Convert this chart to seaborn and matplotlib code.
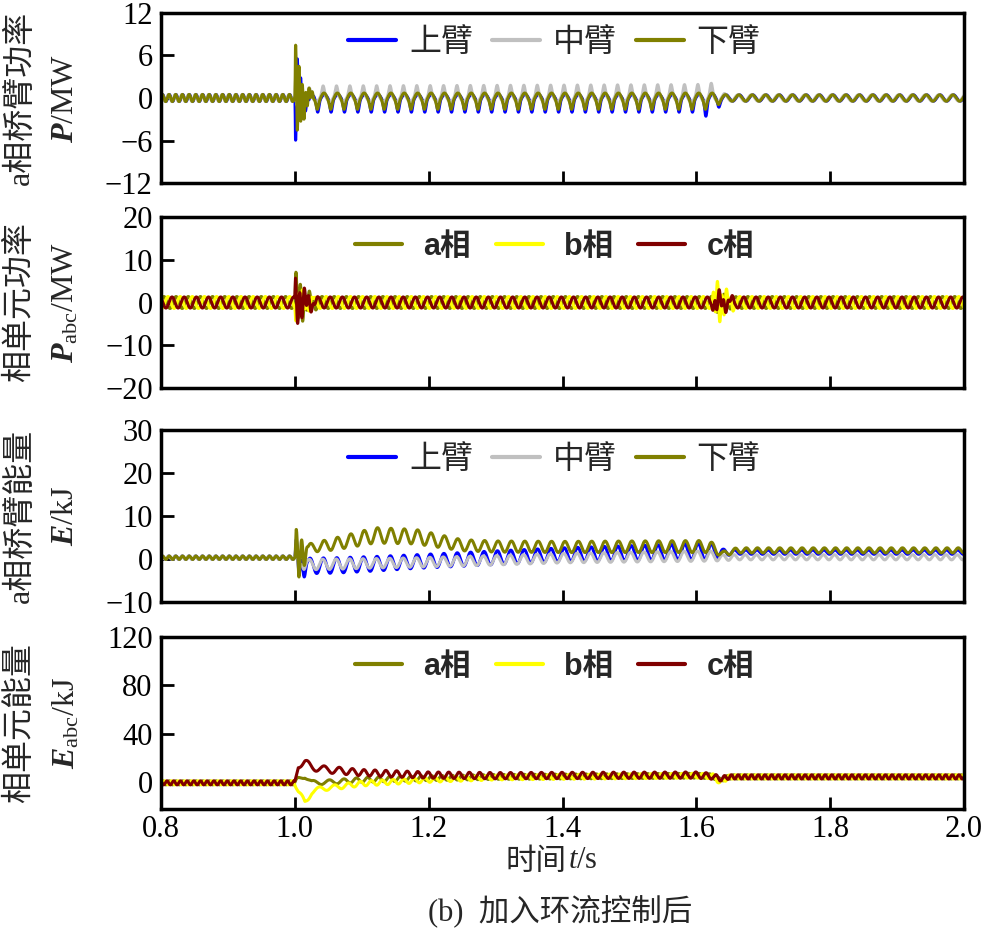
import numpy as np
import pandas as pd
import matplotlib.pyplot as plt
import matplotlib.transforms as mtrans
import seaborn as sns

# --- 时间轴 ---
dt = 0.0002
t = np.round(np.arange(0.8, 2.0 + dt / 2, dt), 6)

# --- 1. a相桥臂功率 P/MW ---
p1_knots = [0.80, 1.000, 1.001, 1.006, 1.015, 1.03, 1.60, 1.625, 1.635, 1.65, 2.00]
p1_freq = [100, 100, 50, 50, 50, 50, 50, 50, 50, 50, 50]
p1_zero = [0, 0, 0, 0, 0, 0, 0, 0, 0, 0, 0]
p1_up_amp = [0.5, 0.5, 0.7, 0.7, 0.6, 0.5, 0.5, 0.6, 0.5, 0.45, 0.45]
p1_up_pulse = [0, 0, 0, 0, -0.8, -1.5, -1.5, -2.4, -0.6, 0, 0]
p1_up_burst = [0, 0, 6.5, 3.5, 1.0, 0, 0, 0, 0, 0, 0]
p1_mid_amp = [0.5, 0.5, 0.5, 0.5, 0.5, 0.5, 0.6, 0.6, 0.5, 0.45, 0.45]
p1_mid_pulse = [0, 0, 0, 0, 0.6, 1.2, 1.3, 1.5, 0.3, 0, 0]
p1_mid_burst = [0, 0, 2.0, 1.0, 0.5, 0, 0, 0, 0, 0, 0]
p1_low_amp = [0.5, 0.5, 0.8, 0.8, 0.7, 0.7, 0.7, 0.7, 0.5, 0.45, 0.45]
p1_low_pulse = [0, 0, 0, 0, -0.5, -0.9, -0.9, -0.9, -0.3, 0, 0]
p1_low_burst = [0, 0, 7.0, 4.0, 1.5, 0, 0, 0, 0, 0, 0]

# --- 2. 相单元功率 Pabc/MW ---
p2_knots = [0.80, 1.000, 1.001, 1.008, 1.02, 1.035, 1.60, 1.622, 1.630, 1.645, 1.66, 2.00]
p2_freq = [55, 55, 55, 55, 55, 55, 55, 55, 55, 55, 55, 55]
p2_zero = [0, 0, 0, 0, 0, 0, 0, 0, 0, 0, 0, 0]
p2_a_amp = [1.4, 1.4, 1.4, 1.4, 1.4, 1.4, 1.4, 1.4, 1.4, 1.4, 1.4, 1.4]
p2_a_burst = [0, 0, 6.5, 4.0, 1.5, 0, 0, 0, 1.0, 0.5, 0, 0]
p2_b_amp = [1.4, 1.4, 1.4, 1.4, 1.4, 1.4, 1.4, 1.4, 1.4, 1.4, 1.4, 1.4]
p2_b_burst = [0, 0, 3.0, 2.0, 1.0, 0, 0, 0, 4.5, 2.0, 0, 0]
p2_c_amp = [1.3, 1.3, 1.3, 1.3, 1.3, 1.3, 1.3, 1.3, 1.3, 1.3, 1.3, 1.3]
p2_c_burst = [0, 0, 5.0, 3.5, 1.5, 0, 0, 0, 2.0, 1.0, 0, 0]

# --- 3. a相桥臂能量 E/kJ ---
p3_knots = [0.80, 1.000, 1.002, 1.006, 1.02, 1.06, 1.12, 1.18, 1.25, 1.30, 1.40, 1.62, 1.64, 1.66, 2.00]
p3_freq = [100, 100, 50, 50, 50, 50, 50, 50, 50, 50, 50, 50, 60, 60, 60]
p3_up_mean = [0.3, 0.3, 0.0, -1.0, -1.6, -1.5, -1.1, -0.6, -0.1, 0.3, 1.0, 1.8, 1.5, 1.6, 1.6]
p3_up_amp = [0.4, 0.4, 1.5, 1.8, 1.8, 1.8, 1.7, 1.6, 1.6, 1.6, 1.6, 1.9, 0.8, 0.5, 0.5]
p3_up_burst = [0, 0, 3.0, 3.0, 0, 0, 0, 0, 0, 0, 0, 0, 0, 0, 0]
p3_mid_mean = [0.3, 0.3, 0.0, -0.8, -1.3, -1.2, -1.0, -0.8, -0.5, -0.3, 0.2, 0.7, 0.3, 0.4, 0.4]
p3_mid_amp = [0.4, 0.4, 1.0, 1.2, 1.2, 1.2, 1.1, 1.1, 1.1, 1.1, 1.1, 1.2, 0.7, 0.6, 0.6]
p3_mid_burst = [0, 0, 1.0, 1.0, 0, 0, 0, 0, 0, 0, 0, 0, 0, 0, 0]
p3_low_mean = [0.3, 0.3, 0.5, 0.5, 2.5, 3.5, 5.5, 5.2, 3.2, 2.9, 2.8, 2.9, 1.2, 2.0, 2.0]
p3_low_amp = [0.4, 0.4, 1.0, 1.0, 1.0, 1.4, 1.8, 1.7, 1.3, 1.3, 1.3, 1.4, 0.6, 0.6, 0.6]
p3_low_burst = [0, 0, 5.5, 5.5, 0, 0, 0, 0, 0, 0, 0, 0, 0, 0, 0]

# --- 4. 相单元能量 Eabc/kJ ---
p4_knots = [0.80, 1.000, 1.005, 1.015, 1.025, 1.04, 1.06, 1.10, 1.20, 1.30, 1.60, 1.625, 1.635, 1.65, 2.00]
p4_freq = [100, 100, 40, 40, 40, 40, 45, 60, 65, 65, 65, 65, 80, 100, 100]
p4_zero = [0, 0, 0, 0, 0, 0, 0, 0, 0, 0, 0, 0, 0, 0, 0]
p4_a_mean = [-0.4, -0.4, 3.0, 5.0, 0.0, 0.0, 0.5, 2.0, 3.5, 4.5, 5.5, 5.0, 2.0, 4.5, 4.5]
p4_a_amp = [1.7, 1.7, 1.5, 1.5, 1.5, 1.8, 1.8, 2.0, 2.0, 2.0, 2.0, 2.0, 1.5, 1.8, 1.8]
p4_b_mean = [-0.4, -0.4, -8.0, -17.0, -8.0, -5.0, -4.0, -1.0, 2.0, 4.0, 5.5, 5.0, 0.0, 4.5, 4.5]
p4_b_amp = [1.7, 1.7, 2.0, 3.0, 2.0, 2.0, 2.0, 2.0, 2.0, 2.0, 2.0, 2.0, 1.5, 1.8, 1.8]
p4_c_mean = [-0.4, -0.4, 14.0, 16.0, 13.0, 11.0, 10.0, 8.0, 6.0, 5.5, 6.0, 5.0, 3.0, 4.5, 4.5]
p4_c_amp = [1.7, 1.7, 2.0, 3.0, 3.0, 2.8, 2.8, 2.6, 2.6, 2.6, 2.6, 2.5, 2.0, 1.8, 1.8]

arm_names = ['上臂', '中臂', '下臂']
phase_names = ['a相', 'b相', 'c相']
arm_colors = ['#0000FF', '#C0C0C0', '#808000']
phase_colors = ['#808000', '#FFFF00', '#800000']

ylabel_cn = ['a相桥臂功率', '相单元功率', 'a相桥臂能量', '相单元能量']
ylabel_math = [r'$P$/MW', r'$P_{\mathrm{abc}}$/MW', r'$E$/kJ', r'$E_{\mathrm{abc}}$/kJ']
ylims = [(-12, 12), (-20, 20), (-10, 30), (-22, 120)]
yticks = [[-12, -6, 0, 6, 12], [-20, -10, 0, 10, 20], [-10, 0, 10, 20, 30], [0, 40, 80, 120]]
xticks = [0.8, 1.0, 1.2, 1.4, 1.6, 1.8, 2.0]


def wave(knots, freq, mean, amp, burst, phase=0.0, pulse=None, burst_f=150.0, burst_phase=0.0):
    ph = 2 * np.pi * np.cumsum(np.interp(t, knots, freq)) * dt + phase
    y = np.interp(t, knots, mean) + np.interp(t, knots, amp) * np.sin(ph)
    if pulse is not None:
        p = np.interp(t, knots, pulse)
        y += p * ((1 + np.sign(p) * np.sin(ph)) / 2) ** 8
    y += np.interp(t, knots, burst) * np.sin(2 * np.pi * burst_f * (t - 1.0) + burst_phase)
    return y


def long_df(names, series):
    return pd.concat([pd.DataFrame({'t': t, 'value': s, 'series': n}) for n, s in zip(names, series)])


df1 = long_df(arm_names, [
    wave(p1_knots, p1_freq, p1_zero, p1_up_amp, p1_up_burst, 0.0, p1_up_pulse, 200, np.pi),
    wave(p1_knots, p1_freq, p1_zero, p1_mid_amp, p1_mid_burst, 0.6, p1_mid_pulse, 200, 0.5),
    wave(p1_knots, p1_freq, p1_zero, p1_low_amp, p1_low_burst, 0.2, p1_low_pulse, 200, 0.0),
])
df2 = long_df(phase_names, [
    wave(p2_knots, p2_freq, p2_zero, p2_a_amp, p2_a_burst, 0.0),
    wave(p2_knots, p2_freq, p2_zero, p2_b_amp, p2_b_burst, -2.09, burst_phase=np.pi),
    wave(p2_knots, p2_freq, p2_zero, p2_c_amp, p2_c_burst, 2.09, burst_phase=0.8),
])
df3 = long_df(arm_names, [
    wave(p3_knots, p3_freq, p3_up_mean, p3_up_amp, p3_up_burst, 0.3, burst_f=120),
    wave(p3_knots, p3_freq, p3_mid_mean, p3_mid_amp, p3_mid_burst, 0.6, burst_f=120),
    wave(p3_knots, p3_freq, p3_low_mean, p3_low_amp, p3_low_burst, 0.0, burst_f=120),
])
df4 = long_df(phase_names, [
    wave(p4_knots, p4_freq, p4_a_mean, p4_a_amp, p4_zero, 0.0),
    wave(p4_knots, p4_freq, p4_b_mean, p4_b_amp, p4_zero, -2.09),
    wave(p4_knots, p4_freq, p4_c_mean, p4_c_amp, p4_zero, 2.09),
])

# --- estilo ---
sns.set_style('ticks', {'axes.edgecolor': 'black', 'xtick.color': 'black', 'ytick.color': 'black',
                        'xtick.direction': 'in', 'ytick.direction': 'in'})
plt.rcParams['font.family'] = ['Liberation Serif', 'Noto Sans CJK SC']
plt.rcParams['mathtext.fontset'] = 'custom'
plt.rcParams['mathtext.rm'] = 'Liberation Serif'
plt.rcParams['mathtext.it'] = 'Liberation Serif:italic:bold'
plt.rcParams['mathtext.sf'] = 'Liberation Serif:italic'
plt.rcParams['axes.unicode_minus'] = True

W, H = 987, 931
fig = plt.figure(figsize=(W / 100, H / 100), dpi=100)
left, right = 161, 964
panel_px = [(13, 183), (217, 388), (430, 602), (637, 809)]

data = [(df1, arm_names, arm_colors), (df2, phase_names, phase_colors),
        (df3, arm_names, arm_colors), (df4, phase_names, phase_colors)]

for i, ((top, bot), (df, names, colors)) in enumerate(zip(panel_px, data)):
    ax = fig.add_axes([left / W, 1 - bot / H, (right - left) / W, (bot - top) / H])
    sns.lineplot(data=df, x='t', y='value', hue='series', hue_order=names, palette=colors,
                 estimator=None, linewidth=2.2, ax=ax)
    ax.set_xlim(0.8, 2.0)
    ax.set_ylim(*ylims[i])
    ax.set_yticks(yticks[i])
    ax.set_xticks(xticks)
    if i == 3:
        ax.set_xticklabels([f'{x:.1f}' for x in xticks])
    else:
        ax.set_xticklabels([])
    ax.set_xlabel('')
    ax.set_ylabel('')
    for s in ax.spines.values():
        s.set_linewidth(2.5)
    ax.tick_params(axis='both', direction='in', length=9, width=2, labelsize=22, pad=6,
                   top=False, right=False)
    ax.tick_params(axis='x', pad=4)

    handles, labels = ax.get_legend_handles_labels()
    if i in (0, 2):
        prop = {'family': ['Liberation Serif', 'Noto Sans CJK SC'], 'size': 23}
        kw = dict(handletextpad=0.4, columnspacing=0.6, handlelength=1.5)
    else:
        prop = {'family': ['Liberation Sans', 'Noto Sans CJK SC'], 'size': 22, 'weight': 'bold'}
        kw = dict(handletextpad=0.7, columnspacing=0.8, handlelength=1.55)
    leg = ax.legend(handles, labels, loc='upper center', bbox_to_anchor=(0.49, 0.985), ncol=3,
                    frameon=False, prop=prop, borderaxespad=0, **kw)
    for h in leg.get_lines():
        h.set_linewidth(3)

    tr = mtrans.blended_transform_factory(fig.transFigure, ax.transAxes)
    ax.text(20 / W, 0.5, ylabel_cn[i], transform=tr, rotation=90, ha='center', va='center',
            fontsize=23)
    ax.text(66 / W, 0.5, ylabel_math[i], transform=tr, rotation=90, ha='center', va='center',
            fontsize=23)

fig.text(567 / W, 1 - 862 / H, '时间', ha='right', va='center', fontsize=22)
fig.text(568 / W, 1 - 860 / H, r'$\mathsf{t}$/s', ha='left', va='center', fontsize=22)
fig.text(560 / W, 1 - 912 / H, '(b)  加入环流控制后', ha='center', va='center', fontsize=22)

fig.savefig('out.png', dpi=100)
